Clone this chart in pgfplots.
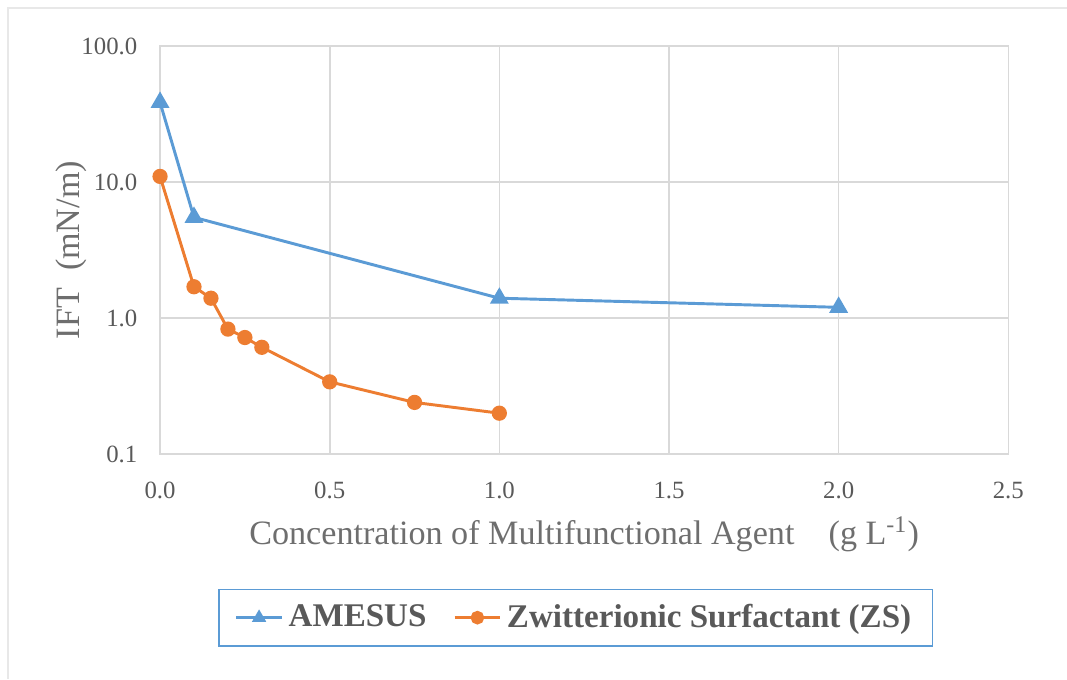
\documentclass[border=0pt]{standalone}
\usepackage{fontspec}
\setmainfont{Liberation Serif}
\usepackage{pgfplots}
\pgfplotsset{compat=1.18}
\definecolor{sblue}{HTML}{5B9BD5}
\definecolor{sorange}{HTML}{ED7D31}
\definecolor{tickgray}{HTML}{595959}
\definecolor{labgray}{HTML}{6E6E6E}
\definecolor{gridgray}{HTML}{D9D9D9}
\begin{document}
\begin{tikzpicture}
\path[use as bounding box] (0,0) rectangle (400pt,254.6pt);
\draw[gridgray!60, line width=0.6pt] (3pt,0) -- (3pt,251.6pt) -- (400pt,251.6pt);
\begin{axis}[
  at={(60pt,84.35pt)}, anchor=south west,
  scale only axis, width=318pt, height=153pt,
  xmin=0, xmax=2.5, ymode=log, ymin=0.1, ymax=100,
  xtick={0,0.5,1,1.5,2,2.5},
  xticklabels={0.0,0.5,1.0,1.5,2.0,2.5},
  ytick={0.1,1,10,100},
  yticklabels={0.1,1.0,10.0,100.0},
  minor ytick={}, yminorticks=false,
  grid=major, major grid style={gridgray, line width=0.6pt},
  axis line style={gridgray, line width=0.6pt},
  tick style={draw=none},
  ticklabel style={font=\fontsize{9.3}{10}\selectfont, text=tickgray},
  xticklabel style={yshift=-7pt},
  yticklabel style={xshift=-5pt},
  xlabel={Concentration of Multifunctional Agent\quad(g L\textsuperscript{-1})},
  ylabel={IFT\enspace(mN/m)},
  label style={font=\fontsize{12.8}{15}\selectfont, text=labgray},
  xlabel style={at={(axis description cs:0.5,0)}, anchor=north, yshift=-20pt},
  ylabel style={at={(axis description cs:0,0.5)}, anchor=south, yshift=24pt},
  legend columns=2,
  legend style={at={(axis description cs:0.49,-0.4006)}, anchor=center, draw=sblue, line width=0.6pt,
    font=\bfseries\fontsize{12.4}{15}\selectfont, text=tickgray,
    inner xsep=6pt, inner ysep=3.5pt, /tikz/every even column/.append style={column sep=8pt}},
  legend image post style={mark size=2pt},
  legend cell align=left,
  clip=false,
]
\addplot[sblue, line width=1.1pt, mark=triangle*, mark size=3pt, mark options={solid, fill=sblue}]
 coordinates {(0,38.5) (0.1,5.5) (1.0,1.4) (2.0,1.2)};
\addlegendentry{AMESUS}
\addplot[sorange, line width=1.1pt, mark=*, mark size=2.3pt, mark options={solid, fill=sorange}]
 coordinates {(0,11) (0.1,1.7) (0.15,1.4) (0.2,0.83) (0.25,0.72) (0.3,0.61) (0.5,0.34) (0.75,0.24) (1.0,0.2)};
\addlegendentry{Zwitterionic Surfactant (ZS)}
\end{axis}
\end{tikzpicture}
\end{document}
